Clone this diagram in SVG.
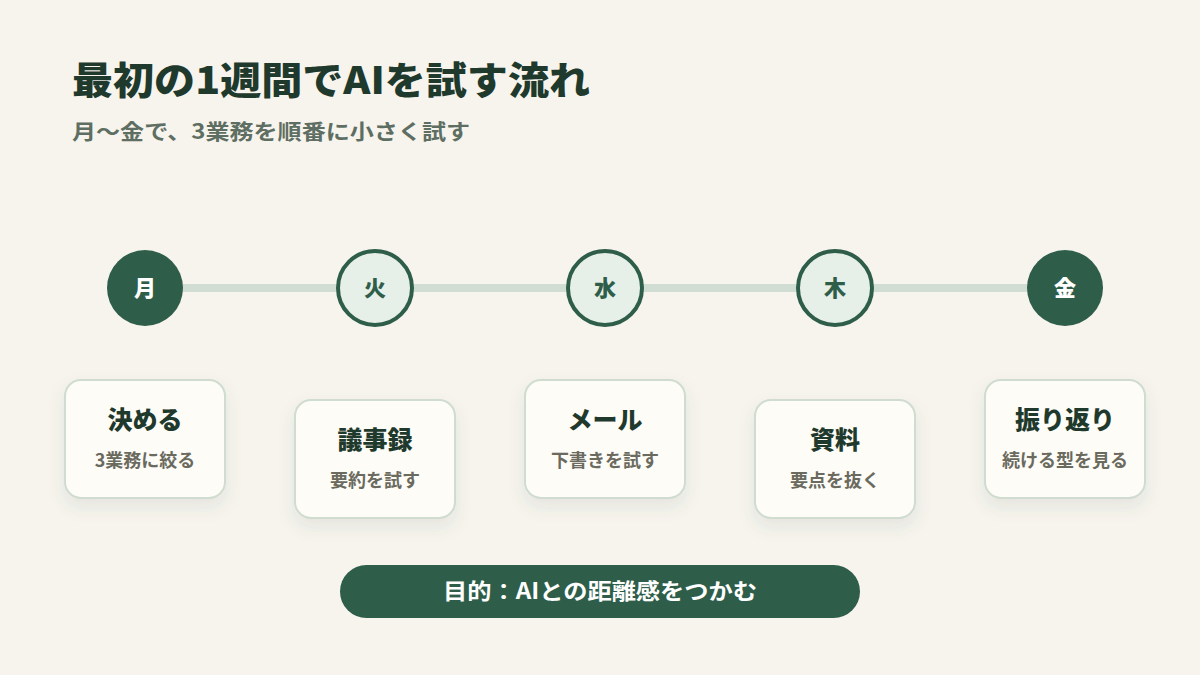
<svg xmlns="http://www.w3.org/2000/svg" width="1200" height="675" viewBox="0 0 1200 675">
<defs>
<filter id="sh" x="-30%" y="-30%" width="160%" height="170%">
<feDropShadow dx="0" dy="8" stdDeviation="8" flood-color="#2e5e4a" flood-opacity="0.10"/>
</filter>
<style>
text{font-family:"Noto Sans CJK JP","Noto Sans",sans-serif;font-weight:700}
.title{font-size:38px;fill:#1f3a2d;font-weight:900}
.sub{font-size:21px;fill:#5e6e62}
.dayF{fill:#2e5e4a}
.dayO{fill:#e6efe8;stroke:#2e5e4a;stroke-width:4}
.dl{font-size:22px;text-anchor:middle;font-weight:900}
.card{fill:#fdfcf7;stroke:#cfdccf;stroke-width:2;filter:url(#sh)}
.ct{font-size:25px;fill:#1f3a2d;text-anchor:middle;font-weight:900}
.cs{font-size:18px;fill:#6b6a5e;text-anchor:middle}
</style>
</defs>
<rect width="1200" height="675" fill="#f7f4ee"/>
<text class="title" x="72" y="94" textLength="518" lengthAdjust="spacingAndGlyphs">最初の1週間でAIを試す流れ</text>
<text class="sub" x="72" y="139" textLength="398" lengthAdjust="spacingAndGlyphs">月〜金で、3業務を順番に小さく試す</text>
<g id="connectors">
<line x1="145" y1="288" x2="1065" y2="288" stroke="#d0ddd2" stroke-width="8"/>
</g>
<g id="mon"><circle class="dayF" cx="145" cy="288" r="38"/><text class="dl" x="145" y="296" fill="#ffffff">月</text></g>
<g id="tue"><circle class="dayO" cx="375" cy="288" r="37"/><text class="dl" x="375" y="296" fill="#2e5e4a">火</text></g>
<g id="wed"><circle class="dayO" cx="605" cy="288" r="37"/><text class="dl" x="605" y="296" fill="#2e5e4a">水</text></g>
<g id="thu"><circle class="dayO" cx="835" cy="288" r="37"/><text class="dl" x="835" y="296" fill="#2e5e4a">木</text></g>
<g id="fri"><circle class="dayF" cx="1065" cy="288" r="38"/><text class="dl" x="1065" y="296" fill="#ffffff">金</text></g>
<g id="card1"><rect class="card" x="65" y="380" width="160" height="118" rx="16"/><text class="ct" x="145" y="429">決める</text><text class="cs" x="145" y="467">3業務に絞る</text></g>
<g id="card2"><rect class="card" x="295" y="400" width="160" height="118" rx="16"/><text class="ct" x="375" y="449">議事録</text><text class="cs" x="375" y="487">要約を試す</text></g>
<g id="card3"><rect class="card" x="525" y="380" width="160" height="118" rx="16"/><text class="ct" x="605" y="429">メール</text><text class="cs" x="605" y="467">下書きを試す</text></g>
<g id="card4"><rect class="card" x="755" y="400" width="160" height="118" rx="16"/><text class="ct" x="835" y="449">資料</text><text class="cs" x="835" y="487">要点を抜く</text></g>
<g id="card5"><rect class="card" x="985" y="380" width="160" height="118" rx="16"/><text class="ct" x="1065" y="429">振り返り</text><text class="cs" x="1065" y="467">続ける型を見る</text></g>
<g id="goal"><rect x="340" y="565" width="520" height="53" rx="26.5" fill="#2e5e4a"/><text x="600" y="599" font-size="22" fill="#ffffff" text-anchor="middle" font-weight="900" textLength="314" lengthAdjust="spacingAndGlyphs">目的：AIとの距離感をつかむ</text></g>
</svg>
